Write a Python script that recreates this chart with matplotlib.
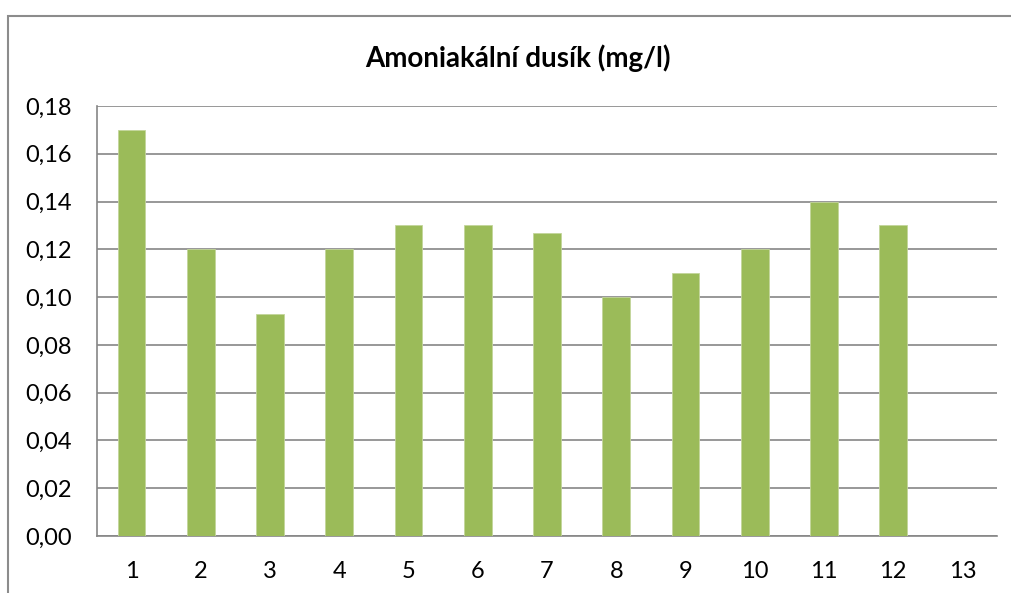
import matplotlib.pyplot as plt
from matplotlib.patches import Rectangle

plt.rcParams['font.family'] = ['Lato', 'DejaVu Sans']

# data
categories = [str(i) for i in range(1, 14)]
values = [0.17, 0.12, 0.093, 0.12, 0.13, 0.13, 0.127, 0.10, 0.11, 0.12, 0.14, 0.13, None]
yticks = [0.00, 0.02, 0.04, 0.06, 0.08, 0.10, 0.12, 0.14, 0.16, 0.18]

W, H = 1012, 593
fig = plt.figure(figsize=(W / 100, H / 100), dpi=100)

# outer chart frame (runs off the right and bottom edges)
fig.patches.append(Rectangle((8 / W, -0.05), 1.1, 1 - 16 / H + 0.05,
                             transform=fig.transFigure, fill=False,
                             edgecolor='#8c8c8c', linewidth=1.5))

ax = fig.add_axes([97 / W, 1 - 536 / H, (997 - 97) / W, (536 - 106) / H])

x = list(range(len(categories)))
heights = [v if v is not None else 0 for v in values]
bars = ax.bar(x, heights, width=0.4, color='#9bbb59', edgecolor='#c3d69b',
              linewidth=0.6, zorder=3)
for b, v in zip(bars, values):
    if v is None:
        b.set_visible(False)

ax.set_xlim(-0.5, len(categories) - 0.5)
ax.set_ylim(0, 0.18)
ax.set_yticks(yticks)
ax.set_yticklabels([f'{t:.2f}'.replace('.', ',') for t in yticks])
ax.set_xticks(x)
ax.set_xticklabels(categories)
ax.tick_params(axis='both', length=0, labelsize=17, colors='black')
ax.tick_params(axis='y', pad=18)
ax.tick_params(axis='x', pad=18)

ax.grid(axis='y', color='#868686', linewidth=1.2, zorder=0)
ax.set_axisbelow(True)
for side in ['top', 'right']:
    ax.spines[side].set_visible(False)
for side in ['left', 'bottom']:
    ax.spines[side].set_color('#868686')
    ax.spines[side].set_linewidth(1.2)

fig.text(0.512, 1 - 58 / H, 'Amoniakální dusík (mg/l)', ha='center', va='center',
         fontsize=20, fontweight='bold')

fig.savefig('out.png', dpi=100)
